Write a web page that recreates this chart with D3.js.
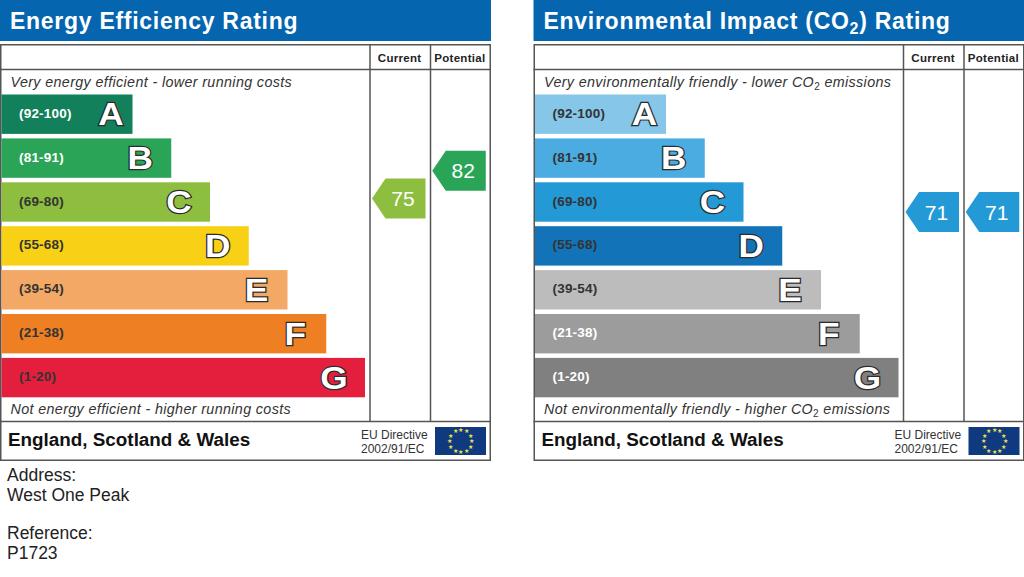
<!DOCTYPE html>
<html>
<head>
<meta charset="utf-8">
<script src="https://cdn.jsdelivr.net/npm/d3@7"></script>
<style>
  html, body { margin: 0; padding: 0; background: #fff; overflow: hidden; }
  svg { display: block; font-family: "Liberation Sans", Arial, sans-serif; }
</style>
</head>
<body>
<svg id="chart" width="1024" height="577"></svg>
<script>
// chart data
const bands = ["A", "B", "C", "D", "E", "F", "G"];
const ranges = ["(92-100)", "(81-91)", "(69-80)", "(55-68)", "(39-54)", "(21-38)", "(1-20)"];
const bandLengths = [1, 2, 3, 4, 5, 6, 7];
const energyColors = ["#12805a", "#2aa557", "#8dbe3f", "#f8d015", "#f3a866", "#ee7f23", "#e41f3d"];
const energyRangeColors = ["#fff", "#fff", "#333", "#333", "#333", "#333", "#333"];
const co2Colors = ["#85c6e9", "#4aace0", "#2399d5", "#1373b9", "#bcbcbc", "#9c9c9c", "#808080"];
const co2RangeColors = ["#333", "#333", "#333", "#333", "#333", "#fff", "#fff"];
const scoreColumns = ["Current", "Potential"];
const energyScores = [75, 82];
const energyScoreColors = ["#8dbe3f", "#2aa557"];
const co2Scores = [71, 71];
const co2ScoreColors = ["#2399d5", "#2399d5"];

const svg = d3.select("#chart");
const lineColor = "#555";

const yScale = d3.scaleBand().domain(bands).range([94.5, 397.3]).paddingInner(0.1025).paddingOuter(0).align(0);
const lengthScale = d3.scaleLinear().domain([1, 7]).range([131, 363.5]);
const scoreScale = d3.scaleLinear().domain([71, 75, 82]).range([212, 198.5, 170.7]);

function drawPanel(x0, p) {
  const g = svg.append("g").attr("transform", `translate(${x0},0)`);

  g.append("rect").attr("x", 0).attr("y", 0).attr("width", 491).attr("height", 41).attr("fill", "#0565ae");
  const title = g.append("text").attr("x", 10).attr("y", 29)
    .attr("fill", "#fff").attr("font-size", 23).attr("font-weight", "bold").attr("letter-spacing", 0.72);
  p.title.forEach((s) => {
    title.append("tspan").attr("font-size", s.sub ? 16 : null).attr("dy", s.sub ? 5 : s.up ? -5 : null).text(s.t);
  });

  // frame and grid
  g.append("rect").attr("x", 0.75).attr("y", 44.75).attr("width", 489.5).attr("height", 415.5)
    .attr("fill", "none").attr("stroke", lineColor).attr("stroke-width", 1.5);
  [[0, 490, 69.5, 69.5], [0, 490, 421.5, 421.5], [370, 370, 44, 421], [430.5, 430.5, 44, 421]].forEach((l) => {
    g.append("line").attr("x1", l[0]).attr("x2", l[1]).attr("y1", l[2]).attr("y2", l[3])
      .attr("stroke", lineColor).attr("stroke-width", 1.5);
  });

  // column heads
  const columnX = d3.scaleBand().domain(scoreColumns).range([370, 490.5]);
  g.selectAll(".head").data(scoreColumns).enter().append("text")
    .attr("x", (d) => columnX(d) + columnX.bandwidth() / 2 - 0.5).attr("y", 61.5)
    .attr("text-anchor", "middle").attr("font-size", 11.5).attr("font-weight", "bold").attr("fill", "#222")
    .attr("letter-spacing", 0.3).text((d) => d);

  drawNote(g, p.top, 87);
  drawNote(g, p.bottom, 414);

  // bars
  g.selectAll(".bar").data(bands).enter().append("rect")
    .attr("x", 1.5).attr("y", (d) => yScale(d))
    .attr("width", (d, i) => lengthScale(bandLengths[i]))
    .attr("height", yScale.bandwidth())
    .attr("fill", (d, i) => p.colors[i]);

  g.selectAll(".range").data(bands).enter().append("text")
    .attr("x", 19).attr("y", (d) => yScale(d) + yScale.bandwidth() / 2 + 3.5)
    .attr("font-size", 13.5).attr("font-weight", "bold").attr("letter-spacing", 0.2)
    .attr("fill", (d, i) => p.rangeColors[i])
    .text((d, i) => ranges[i]);

  // band letters sit further in from the bar end, except A on the short bar
  g.selectAll(".letter").data(bands).enter().append("text")
    .attr("transform", (d, i) => {
      const cx = lengthScale(bandLengths[i]) + 1.5 - (d === "A" ? 21.5 : 31);
      const cy = yScale(d) + yScale.bandwidth() / 2 + 11;
      return `translate(${cx},${cy}) scale(1.1,1)`;
    })
    .attr("text-anchor", "middle").attr("font-size", 32).attr("font-weight", "bold")
    .attr("fill", "#fff").attr("stroke", "#2b2b2b").attr("stroke-width", 2.4)
    .attr("paint-order", "stroke").attr("stroke-linejoin", "miter")
    .text((d) => d);

  // score arrows
  const arrows = g.selectAll(".score").data(p.scores).enter().append("g")
    .attr("transform", (d, i) => `translate(${columnX(scoreColumns[i]) + 2},${scoreScale(d)})`);
  arrows.append("path")
    .attr("d", d3.line()([[0, 0], [13.5, -20], [53.5, -20], [53.5, 20], [13.5, 20]]) + "Z")
    .attr("fill", (d, i) => p.scoreColors[i]);
  arrows.append("text").attr("x", 31).attr("y", 7.5).attr("text-anchor", "middle")
    .attr("font-size", 21).attr("fill", "#fff").text((d) => d);

  // footer
  g.append("text").attr("x", 8).attr("y", 446).attr("font-size", 18.85).attr("font-weight", "bold")
    .attr("fill", "#111").text("England, Scotland & Wales");
  g.append("text").attr("x", 361).attr("y", 439).attr("font-size", 12).attr("fill", "#333").text("EU Directive");
  g.append("text").attr("x", 361).attr("y", 452.5).attr("font-size", 12).attr("fill", "#333").text("2002/91/EC");
  g.append("rect").attr("x", 435).attr("y", 427).attr("width", 51).attr("height", 28).attr("fill", "#0f3a80");
  const stars = d3.range(12).map((i) => i * 30);
  g.selectAll(".star").data(stars).enter().append("text")
    .attr("x", (d) => 460.5 + 11 * Math.sin(d * Math.PI / 180))
    .attr("y", (d) => 441 - 11 * Math.cos(d * Math.PI / 180) + 2)
    .attr("text-anchor", "middle").attr("font-size", 6).attr("fill", "#f4e04d").text("★");
}

function drawNote(g, parts, y) {
  const t = g.append("text").attr("x", 10.5).attr("y", y).attr("font-size", 14.3)
    .attr("font-style", "italic").attr("fill", "#333").attr("letter-spacing", 0.37);
  parts.forEach((s) => {
    t.append("tspan").attr("font-size", s.sub ? 10 : null).attr("font-style", s.sub ? "normal" : null)
      .attr("dy", s.sub ? 3 : s.up ? -3 : null).text(s.t);
  });
}

drawPanel(0, {
  title: [{ t: "Energy Efficiency Rating" }],
  top: [{ t: "Very energy efficient - lower running costs" }],
  bottom: [{ t: "Not energy efficient - higher running costs" }],
  colors: energyColors,
  rangeColors: energyRangeColors,
  scores: energyScores,
  scoreColors: energyScoreColors,
});

drawPanel(533.5, {
  title: [{ t: "Environmental Impact (CO" }, { t: "2", sub: true }, { t: ") Rating", up: true }],
  top: [{ t: "Very environmentally friendly - lower CO" }, { t: "2", sub: true }, { t: " emissions", up: true }],
  bottom: [{ t: "Not environmentally friendly - higher CO" }, { t: "2", sub: true }, { t: " emissions", up: true }],
  colors: co2Colors,
  rangeColors: co2RangeColors,
  scores: co2Scores,
  scoreColors: co2ScoreColors,
});

// address block
const addressLines = [["Address:", 481], ["West One Peak", 501], ["Reference:", 539], ["P1723", 559]];
svg.selectAll(".addr").data(addressLines).enter().append("text")
  .attr("x", 7).attr("y", (d) => d[1]).attr("font-size", 17.5).attr("fill", "#222").text((d) => d[0]);
</script>
</body>
</html>
